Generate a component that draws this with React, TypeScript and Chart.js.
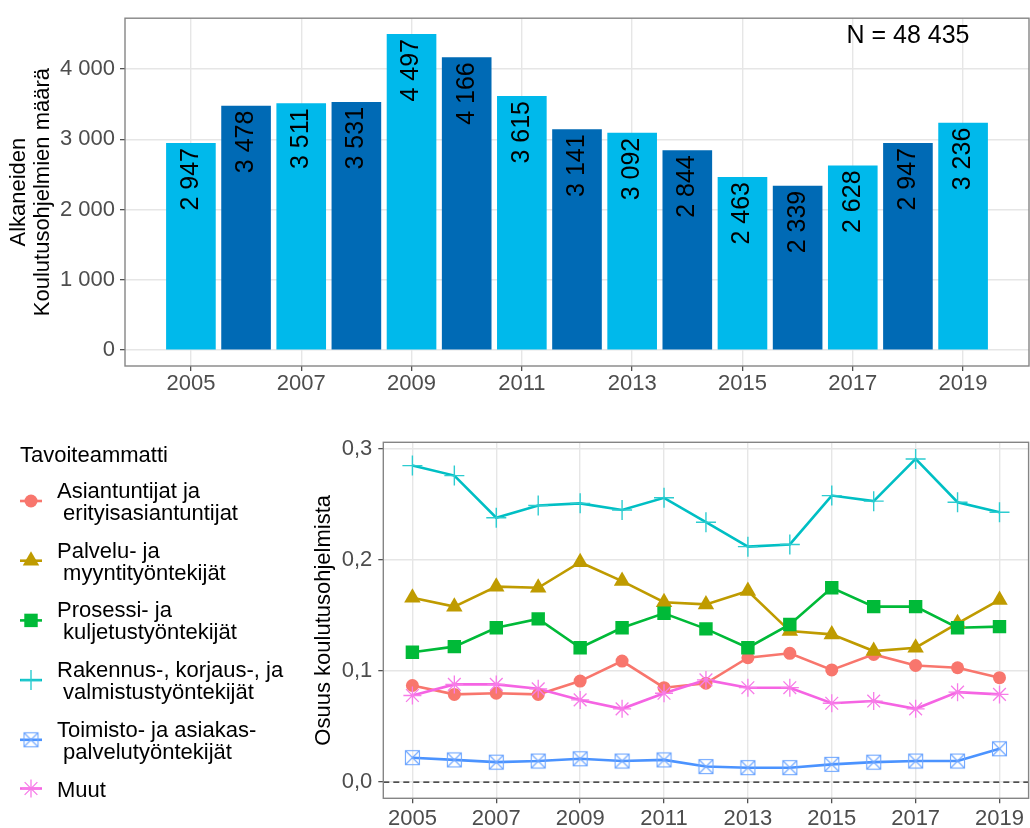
import React, { useEffect, useRef } from 'react';
import { Chart, registerables } from 'chart.js';

Chart.register(...registerables);

const FONT = "'Liberation Sans', Arial, Helvetica, sans-serif";
Chart.defaults.font.family = FONT;

// ---------- data ----------
const YEARS = [2005, 2006, 2007, 2008, 2009, 2010, 2011, 2012, 2013, 2014, 2015, 2016, 2017, 2018, 2019];
const PROGRAM_COUNTS = [2947, 3478, 3511, 3531, 4497, 4166, 3615, 3141, 3092, 2844, 2463, 2339, 2628, 2947, 3236];
const YEAR_TICKS = [2005, 2007, 2009, 2011, 2013, 2015, 2017, 2019];
const COUNT_TICKS = [0, 1000, 2000, 3000, 4000];
const SHARE_TICKS = [0, 0.1, 0.2, 0.3];
const TOTAL_LABEL = 'N = 48 435';
const COUNT_AXIS_TITLE = ['Alkaneiden', 'Koulutusohjelmien määrä'];
const SHARE_AXIS_TITLE = 'Osuus koulutusohjelmista';
const LEGEND_TITLE = 'Tavoiteammatti';

const SHARE_ASIANTUNTIJAT = [0.087, 0.079, 0.080, 0.079, 0.091, 0.109, 0.085, 0.089, 0.112, 0.116, 0.101, 0.115, 0.105, 0.103, 0.094];
const SHARE_PALVELU = [0.166, 0.158, 0.176, 0.175, 0.198, 0.181, 0.162, 0.160, 0.172, 0.136, 0.133, 0.118, 0.121, 0.143, 0.164];
const SHARE_PROSESSI = [0.117, 0.122, 0.139, 0.147, 0.121, 0.139, 0.152, 0.138, 0.121, 0.142, 0.175, 0.158, 0.158, 0.139, 0.140];
const SHARE_RAKENNUS = [0.285, 0.276, 0.238, 0.249, 0.251, 0.245, 0.256, 0.234, 0.212, 0.214, 0.258, 0.253, 0.291, 0.252, 0.243];
const SHARE_TOIMISTO = [0.022, 0.020, 0.018, 0.019, 0.021, 0.019, 0.020, 0.014, 0.013, 0.013, 0.016, 0.018, 0.019, 0.019, 0.030];
const SHARE_MUUT = [0.078, 0.088, 0.088, 0.084, 0.074, 0.066, 0.080, 0.092, 0.085, 0.085, 0.071, 0.073, 0.066, 0.081, 0.079];

const LABEL_ASIANTUNTIJAT = ['Asiantuntijat ja', ' erityisasiantuntijat'];
const LABEL_PALVELU = ['Palvelu- ja', ' myyntityöntekijät'];
const LABEL_PROSESSI = ['Prosessi- ja', ' kuljetustyöntekijät'];
const LABEL_RAKENNUS = ['Rakennus-, korjaus-, ja', ' valmistustyöntekijät'];
const LABEL_TOIMISTO = ['Toimisto- ja asiakas-', ' palvelutyöntekijät'];
const LABEL_MUUT = ['Muut'];

// ---------- styles ----------
const BAR_LIGHT = '#00B9EB';
const BAR_DARK = '#006AB5';
const GRID = '#E6E6E6';
const TICK_TEXT = '#4D4D4D';
const BORDER = '#858585';

type Marker = { style: string; radius: number; fill: string; stroke: string; width: number };

const SERIES = [
  { label: LABEL_ASIANTUNTIJAT, values: SHARE_ASIANTUNTIJAT, line: '#F8766D', marker: { style: 'circle', radius: 6.5, fill: '#F8766D', stroke: '#F8766D', width: 0 } },
  { label: LABEL_PALVELU, values: SHARE_PALVELU, line: '#BF9B00', marker: { style: 'triangle', radius: 9.5, fill: '#BF9B00', stroke: '#BF9B00', width: 0 } },
  { label: LABEL_PROSESSI, values: SHARE_PROSESSI, line: '#00BA38', marker: { style: 'rect', radius: 9.5, fill: '#00BA38', stroke: '#00BA38', width: 0 } },
  { label: LABEL_RAKENNUS, values: SHARE_RAKENNUS, line: '#00BFC4', marker: { style: 'cross', radius: 10, fill: '#00BFC4', stroke: '#2CCCD0', width: 1.4 } },
  { label: LABEL_TOIMISTO, values: SHARE_TOIMISTO, line: '#4B93FF', marker: { style: 'boxcross', radius: 7, fill: 'transparent', stroke: '#6EA6FF', width: 1.1 } },
  { label: LABEL_MUUT, values: SHARE_MUUT, line: '#F564E3', marker: { style: 'star', radius: 9, fill: '#F564E3', stroke: '#F77BE8', width: 1.3 } },
];

const fmtThousands = (n: number) => String(n).replace(/\B(?=(\d{3})+(?!\d))/g, ' ');
const fmtShare = (v: number) => v.toFixed(1).replace('.', ',');

function makeBoxCross(m: Marker) {
  const s = Math.round(m.radius * 2);
  const c = document.createElement('canvas');
  c.width = s + 3;
  c.height = s + 3;
  const ctx = c.getContext('2d')!;
  ctx.strokeStyle = m.stroke;
  ctx.lineWidth = m.width;
  const o = 1.5;
  ctx.strokeRect(o, o, s, s);
  ctx.beginPath();
  ctx.moveTo(o, o);
  ctx.lineTo(o + s, o + s);
  ctx.moveTo(o + s, o);
  ctx.lineTo(o, o + s);
  ctx.stroke();
  return c;
}

function drawMarker(ctx: CanvasRenderingContext2D, m: Marker, img: HTMLCanvasElement | null, x: number, y: number) {
  const r = m.radius;
  ctx.save();
  ctx.fillStyle = m.fill;
  ctx.strokeStyle = m.stroke;
  ctx.lineWidth = m.width;
  ctx.beginPath();
  if (m.style === 'circle') {
    ctx.arc(x, y, r, 0, Math.PI * 2);
    ctx.fill();
  } else if (m.style === 'triangle') {
    let a = 0;
    ctx.moveTo(x + Math.sin(a) * r, y - Math.cos(a) * r);
    a += (Math.PI * 2) / 3;
    ctx.lineTo(x + Math.sin(a) * r, y - Math.cos(a) * r);
    a += (Math.PI * 2) / 3;
    ctx.lineTo(x + Math.sin(a) * r, y - Math.cos(a) * r);
    ctx.closePath();
    ctx.fill();
  } else if (m.style === 'rect') {
    const h = r * Math.SQRT1_2;
    ctx.rect(x - h, y - h, 2 * h, 2 * h);
    ctx.fill();
  } else if (m.style === 'cross') {
    ctx.moveTo(x - r, y);
    ctx.lineTo(x + r, y);
    ctx.moveTo(x, y - r);
    ctx.lineTo(x, y + r);
    ctx.stroke();
  } else if (m.style === 'star') {
    const d = r * Math.SQRT1_2;
    ctx.moveTo(x - r, y);
    ctx.lineTo(x + r, y);
    ctx.moveTo(x, y - r);
    ctx.lineTo(x, y + r);
    ctx.moveTo(x - d, y - d);
    ctx.lineTo(x + d, y + d);
    ctx.moveTo(x + d, y - d);
    ctx.lineTo(x - d, y + d);
    ctx.stroke();
  } else if (img) {
    ctx.drawImage(img, x - img.width / 2, y - img.height / 2);
  }
  ctx.restore();
}

// ---------- layout ----------
const TOP_H = 405;
const BOTTOM_TOP = 405;
const BOTTOM_H = 423;
const BOTTOM_W = 1040;

const topDecor = {
  id: 'topDecor',
  afterDatasetsDraw(chart: any) {
    const { ctx, chartArea } = chart;
    const meta = chart.getDatasetMeta(0);
    ctx.save();
    ctx.fillStyle = '#000';
    ctx.font = `25px ${FONT}`;
    meta.data.forEach((bar: any, i: number) => {
      ctx.save();
      ctx.translate(bar.x, bar.y + 5);
      ctx.rotate(-Math.PI / 2);
      ctx.textAlign = 'right';
      ctx.textBaseline = 'middle';
      ctx.fillText(fmtThousands(PROGRAM_COUNTS[i]), 0, 0);
      ctx.restore();
    });
    const xs = chart.scales.x;
    const ys = chart.scales.y;
    ctx.textAlign = 'center';
    ctx.textBaseline = 'middle';
    ctx.fillText(TOTAL_LABEL, xs.getPixelForValue(2018), ys.getPixelForValue(4470));
    ctx.strokeStyle = BORDER;
    ctx.lineWidth = 1.4;
    ctx.strokeRect(chartArea.left, chartArea.top, chartArea.right - chartArea.left, chartArea.bottom - chartArea.top);
    ctx.restore();
  },
};

function makeBottomDecor(images: (HTMLCanvasElement | null)[]) {
  return {
    id: 'bottomDecor',
    beforeDatasetsDraw(chart: any) {
      const { ctx, chartArea } = chart;
      const y0 = chart.scales.y.getPixelForValue(0);
      ctx.save();
      ctx.strokeStyle = '#1A1A1A';
      ctx.lineWidth = 1.4;
      ctx.setLineDash([6, 4]);
      ctx.beginPath();
      ctx.moveTo(chartArea.left, y0);
      ctx.lineTo(chartArea.right, y0);
      ctx.stroke();
      ctx.restore();
    },
    afterDatasetsDraw(chart: any) {
      const { ctx, chartArea } = chart;
      ctx.save();
      ctx.strokeStyle = BORDER;
      ctx.lineWidth = 1.4;
      ctx.strokeRect(chartArea.left, chartArea.top, chartArea.right - chartArea.left, chartArea.bottom - chartArea.top);
      ctx.restore();
    },
    afterDraw(chart: any) {
      const { ctx } = chart;
      ctx.save();
      ctx.fillStyle = '#000';
      ctx.font = `22px ${FONT}`;
      ctx.textAlign = 'left';
      ctx.textBaseline = 'alphabetic';
      ctx.fillText(LEGEND_TITLE, 20, 461.5 - BOTTOM_TOP);
      SERIES.forEach((s, i) => {
        const base = 498 + 59.7 * i - BOTTOM_TOP;
        s.label.forEach((line, j) => {
          ctx.fillText(line, 57, base + 22 * j);
        });
        const ky = s.label.length > 1 ? base + 3 : base - 8;
        ctx.save();
        ctx.strokeStyle = s.line;
        ctx.lineWidth = 2.6;
        ctx.beginPath();
        ctx.moveTo(20, ky);
        ctx.lineTo(42, ky);
        ctx.stroke();
        ctx.restore();
        drawMarker(ctx, s.marker as Marker, images[i], 31, ky);
      });
      ctx.restore();
    },
  };
}

export default function App() {
  const topRef = useRef<HTMLCanvasElement>(null);
  const bottomRef = useRef<HTMLCanvasElement>(null);

  useEffect(() => {
    const top = new Chart(topRef.current!, {
      type: 'bar',
      data: {
        datasets: [
          {
            data: YEARS.map((y, i) => ({ x: y, y: PROGRAM_COUNTS[i] })),
            backgroundColor: YEARS.map((_, i) => (i % 2 === 0 ? BAR_LIGHT : BAR_DARK)),
            borderWidth: 0,
            barPercentage: 0.9,
            categoryPercentage: 1,
          },
        ],
      },
      options: {
        responsive: false,
        animation: false,
        devicePixelRatio: 1,
        layout: { padding: { top: 10, right: 1, left: 0, bottom: 0 } },
        plugins: { legend: { display: false }, tooltip: { enabled: false } },
        scales: {
          x: {
            type: 'linear',
            min: 2003.805,
            max: 2020.195,
            offset: false,
            afterBuildTicks: (s: any) => {
              s.ticks = YEAR_TICKS.map((v) => ({ value: v }));
            },
            afterFit: (s: any) => {
              s.height = TOP_H - 366;
            },
            grid: { offset: false, color: GRID, lineWidth: 1.4, tickLength: 5, tickColor: '#333333', tickWidth: 1.1 },
            border: { display: false },
            ticks: { color: TICK_TEXT, font: { size: 22 }, padding: 0, maxRotation: 0, autoSkip: false, callback: (v: any) => String(v) },
          },
          y: {
            type: 'linear',
            min: -225,
            max: 4722,
            afterBuildTicks: (s: any) => {
              s.ticks = COUNT_TICKS.map((v) => ({ value: v }));
            },
            afterFit: (s: any) => {
              s.width = 125;
            },
            grid: { color: GRID, lineWidth: 1.4, tickLength: 5, tickColor: '#333333', tickWidth: 1.1 },
            border: { display: false },
            ticks: { color: TICK_TEXT, font: { size: 22 }, padding: 5, callback: (v: any) => fmtThousands(Number(v)) },
            title: { display: true, text: COUNT_AXIS_TITLE, color: '#000', font: { size: 22, lineHeight: 24 / 22 }, padding: { top: 7, bottom: 0 } },
          },
        },
      },
      plugins: [topDecor],
    } as any);

    const images = SERIES.map((s) => (s.marker.style === 'boxcross' ? makeBoxCross(s.marker as Marker) : null));

    const lineSets = SERIES.map((s, i) => ({
      data: YEARS.map((y, k) => ({ x: y, y: s.values[k] })),
      borderColor: s.line,
      borderWidth: 2.6,
      pointRadius: 0,
      pointHoverRadius: 0,
      tension: 0,
      fill: false,
      order: 100 - i,
    }));
    const pointSets = SERIES.map((s, i) => ({
      data: YEARS.map((y, k) => ({ x: y, y: s.values[k] })),
      showLine: false,
      pointStyle: images[i] ? images[i] : s.marker.style,
      pointRadius: s.marker.radius,
      pointHoverRadius: s.marker.radius,
      pointBackgroundColor: s.marker.fill,
      pointBorderColor: s.marker.stroke,
      pointBorderWidth: s.marker.width,
      order: 50 - i,
    }));

    const bottom = new Chart(bottomRef.current!, {
      type: 'line',
      data: { datasets: [...lineSets, ...pointSets] },
      options: {
        responsive: false,
        animation: false,
        devicePixelRatio: 1,
        layout: { padding: { top: 442.3 - BOTTOM_TOP, right: BOTTOM_W - 1035.5, left: 310, bottom: 0 } },
        plugins: { legend: { display: false }, tooltip: { enabled: false } },
        scales: {
          x: {
            type: 'linear',
            min: 2004.306,
            max: 2019.694,
            offset: false,
            afterBuildTicks: (s: any) => {
              s.ticks = YEAR_TICKS.map((v) => ({ value: v }));
            },
            afterFit: (s: any) => {
              s.height = BOTTOM_H - (798.3 - BOTTOM_TOP);
            },
            grid: { offset: false, color: GRID, lineWidth: 1.4, tickLength: 5, tickColor: '#333333', tickWidth: 1.1 },
            border: { display: false },
            ticks: { color: TICK_TEXT, font: { size: 22 }, padding: 2, maxRotation: 0, autoSkip: false, callback: (v: any) => String(v) },
          },
          y: {
            type: 'linear',
            min: -0.01457,
            max: 0.30597,
            afterBuildTicks: (s: any) => {
              s.ticks = SHARE_TICKS.map((v) => ({ value: v }));
            },
            afterFit: (s: any) => {
              s.width = 383.3 - 310;
            },
            grid: { color: GRID, lineWidth: 1.4, tickLength: 5, tickColor: '#333333', tickWidth: 1.1 },
            border: { display: false },
            ticks: { color: TICK_TEXT, font: { size: 22 }, padding: 6, callback: (v: any) => fmtShare(Number(v)) },
            title: { display: true, text: SHARE_AXIS_TITLE, color: '#000', font: { size: 22, lineHeight: 24 / 22 }, padding: { top: 2, bottom: 0 } },
          },
        },
      },
      plugins: [makeBottomDecor(images)],
    } as any);

    return () => {
      top.destroy();
      bottom.destroy();
    };
  }, []);

  return (
    <div style={{ position: 'absolute', left: 0, top: 0, width: 1030, height: 828, overflow: 'hidden', background: '#fff' }}>
      <canvas ref={topRef} width={1030} height={TOP_H} style={{ position: 'absolute', left: 0, top: 0 }} />
      <canvas ref={bottomRef} width={BOTTOM_W} height={BOTTOM_H} style={{ position: 'absolute', left: 0, top: BOTTOM_TOP }} />
    </div>
  );
}
